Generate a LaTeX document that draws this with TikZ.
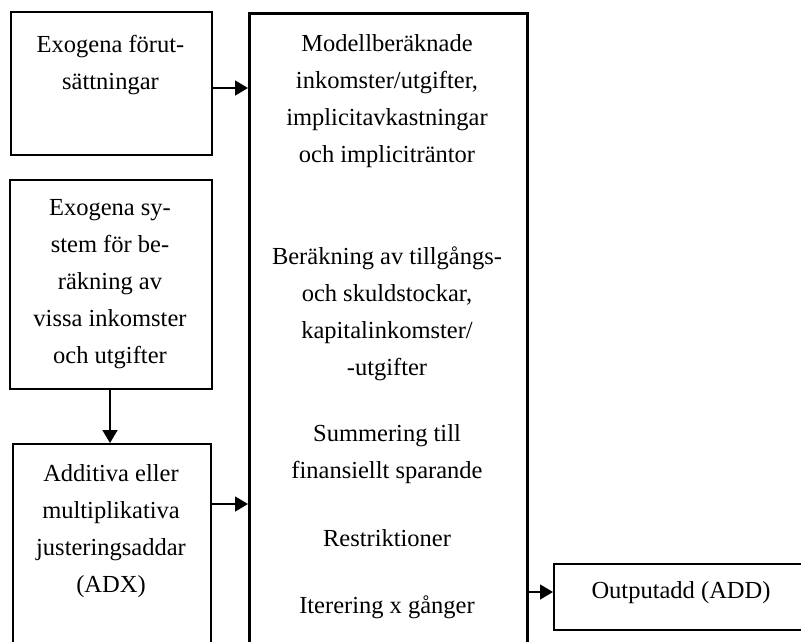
\documentclass[tikz,border=0pt]{standalone}
\usepackage{fontspec}
\setmainfont{Liberation Serif}
\usetikzlibrary{arrows.meta}
\begin{document}
\begin{tikzpicture}[x=1pt,y=-1pt,
  box/.style={draw=black,line width=1.5pt,rectangle,anchor=north west,inner sep=0pt},
  mainbox/.style={draw=black,line width=3pt,rectangle,anchor=north west,inner sep=0pt},
  txt/.style={align=center,inner sep=0pt,font=\fontsize{24.5pt}{37pt}\selectfont},
  arr/.style={line width=1.5pt,-{Triangle[length=13pt,width=15pt]}}]
\useasboundingbox (0,0) rectangle (801,641);
\clip (0,0) rectangle (801,641);

% left column boxes
\node[box,minimum width=201pt,minimum height=143pt] (b1) at (10,11) {};
\node[box,minimum width=202pt,minimum height=209pt] (b2) at (9,179) {};
\node[box,minimum width=198pt,minimum height=230pt] (b3) at (12,443) {};

% central model box (runs past the lower edge)
\node[mainbox,minimum width=278pt,minimum height=680pt] (big) at (248,12) {};

% output box (runs past the right edge)
\node[box,minimum width=270pt,minimum height=66pt] (out) at (553,563) {};

% texts
\node[txt] (t1) at (110.5,65) {Exogena förut-\\sättningar};
\node[txt] (t2) at (110,284) {Exogena sy-\\stem för be-\\räkning av\\vissa inkomster\\och utgifter};
\node[txt] (t3) at (111,531) {Additiva eller\\multiplikativa\\justeringsaddar\\(ADX)};
\node[txt] (m1) at (387,101) {Modellberäknade\\inkomster/utgifter,\\implicitavkastningar\\och impliciträntor};
\node[txt] (m2) at (387,313.5) {Beräkning av tillgångs-\\och skuldstockar,\\kapitalinkomster/\\-utgifter};
\node[txt] (m3) at (387,454) {Summering till\\finansiellt sparande};
\node[txt] (m4) at (387,538) {Restriktioner};
\node[txt] (m5) at (387,607) {Iterering x gånger};
\node[txt] (o1) at (681,593) {Outputadd (ADD)};

% connectors
\coordinate (ya) at (0,88);
\coordinate (yb) at (0,504);
\coordinate (yc) at (0,592);
\coordinate (xa) at (110,0);
\draw[arr] (b1.east |- ya) -- (big.west |- ya);
\draw[arr] (xa |- b2.south) -- (xa |- b3.north);
\draw[arr] (b3.east |- yb) -- (big.west |- yb);
\draw[arr] (big.east |- yc) -- (out.west |- yc);
\end{tikzpicture}
\end{document}
